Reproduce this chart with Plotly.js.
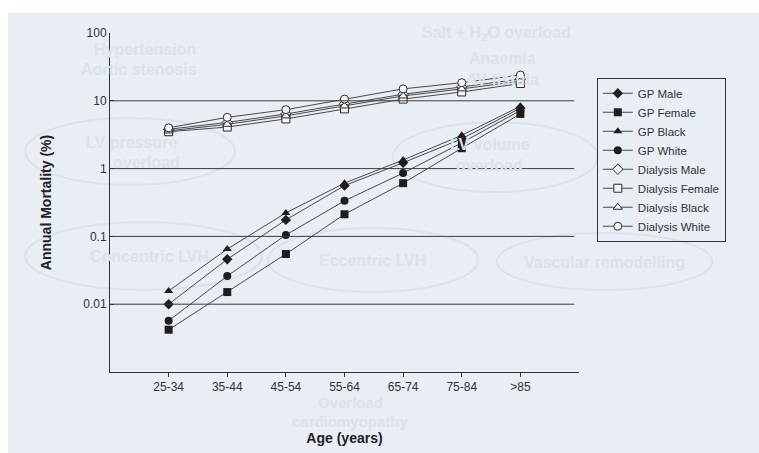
<!DOCTYPE html>
<html>
<head>
<meta charset="utf-8">
<script src="https://cdn.plot.ly/plotly-3.0.1.min.js"></script>
<style>
html,body{margin:0;padding:0;background:#ffffff;}
#chart{width:759px;height:453px;}
</style>
</head>
<body>
<div id="chart"></div>
<script>
// ---- data ----
var AGE_GROUPS = ["25-34","35-44","45-54","55-64","65-74","75-84",">85"];

var GP_MALE   = [0.0100, 0.046, 0.175, 0.56, 1.22, 2.75, 7.8];
var GP_FEMALE = [0.0042, 0.0151, 0.055, 0.212, 0.61, 2.0, 6.4];
var GP_BLACK  = [0.0157, 0.065, 0.222, 0.61, 1.34, 3.1, 8.3];
var GP_WHITE  = [0.0057, 0.026, 0.105, 0.335, 0.86, 2.4, 7.2];

var DIAL_MALE   = [3.8, 4.8, 6.4, 9.0, 12.5, 16.0, 21.0];
var DIAL_FEMALE = [3.5, 4.1, 5.4, 7.6, 10.6, 13.5, 18.0];
var DIAL_BLACK  = [3.6, 4.5, 6.0, 8.4, 11.8, 15.0, 19.5];
var DIAL_WHITE  = [4.0, 5.7, 7.4, 10.6, 15.0, 18.5, 24.0];

var Y_TICKS = [100, 10, 1, 0.1, 0.01];
var Y_TICK_TEXT = ["100", "10", "1", "0.1", "0.01"];
var GRID_LINES = [10, 1, 0.1, 0.01];

// ---- styling ----
var LINE = {color: "#4a4a4a", width: 1};
function gp(name, y, sym) {
  return {type: "scatter", mode: "lines+markers", name: name, x: AGE_GROUPS, y: y,
    line: LINE, marker: {symbol: sym, size: 8, color: "#1e1e1e", line: {width: 0}}};
}
function dial(name, y, sym) {
  return {type: "scatter", mode: "lines+markers", name: name, x: AGE_GROUPS, y: y,
    line: LINE, marker: {symbol: sym, size: 8, color: "#f4f6fa", line: {width: 1, color: "#2a2a2a"}}};
}

var traces = [
  gp("GP Male", GP_MALE, "diamond"),
  gp("GP Female", GP_FEMALE, "square"),
  gp("GP Black", GP_BLACK, "triangle-up"),
  gp("GP White", GP_WHITE, "circle"),
  dial("Dialysis Male", DIAL_MALE, "diamond"),
  dial("Dialysis Female", DIAL_FEMALE, "square"),
  dial("Dialysis Black", DIAL_BLACK, "triangle-up"),
  dial("Dialysis White", DIAL_WHITE, "circle")
];

var BG = "#e9edf4";
var GHOST = "#dce1ea";

var shapes = [
  {type: "rect", xref: "paper", yref: "paper", x0: -0.2175, x1: 1.5, y0: -0.3, y1: 1.059,
   fillcolor: BG, line: {width: 0}, layer: "below"}
];
// faint show-through ellipses from the reverse page
[[-0.181, 0.2665, 0.552, 0.749], [0.603, 1.040, 0.531, 0.737], [-0.181, 0.324, 0.242, 0.442],
 [0.337, 0.785, 0.236, 0.425], [0.825, 1.284, 0.242, 0.410]].forEach(function (e) {
  shapes.push({type: "circle", xref: "paper", yref: "paper", x0: e[0], x1: e[1], y0: e[2], y1: e[3],
    line: {color: GHOST, width: 2}, fillcolor: "rgba(0,0,0,0)", layer: "below"});
});
GRID_LINES.forEach(function (v) {
  shapes.push({type: "line", xref: "paper", yref: "y", x0: 0, x1: 0.99, y0: v, y1: v,
    line: {color: "#3c3c3c", width: 1}});
});

var ghostFont = {family: "Liberation Sans, Arial, sans-serif", size: 16, color: GHOST, weight: "bold"};
var ghostSmall = {family: "Liberation Sans, Arial, sans-serif", size: 15, color: GHOST, weight: "bold"};
var ghostTexts = [
  ["Hypertension", 0.075, 0.950], ["Aortic stenosis", 0.062, 0.893],
  ["LV pressure", 0.045, 0.678], ["overload", 0.078, 0.619],
  ["Salt + H<sub>2</sub>O overload", 0.825, 1.0], ["Anaemia", 0.836, 0.926], ["AV fistula", 0.836, 0.864],
  ["LV volume", 0.81, 0.67], ["overload", 0.81, 0.61],
  ["Concentric LVH", 0.085, 0.342], ["Eccentric LVH", 0.559, 0.33], ["Vascular remodelling", 1.055, 0.324],
  ["Overload", 0.512, -0.091], ["cardiomyopathy", 0.512, -0.145]
];
var annotations = ghostTexts.map(function (g, i) {
  return {text: "<b>" + g[0] + "</b>", x: g[1], y: g[2], xref: "paper", yref: "paper",
    showarrow: false, font: (i >= 12 ? ghostSmall : ghostFont), xanchor: "center", yanchor: "middle"};
});

var layout = {
  width: 759, height: 453,
  margin: {l: 110, r: 180, t: 33, b: 81},
  paper_bgcolor: "#ffffff",
  plot_bgcolor: "rgba(0,0,0,0)",
  font: {family: "Liberation Sans, Arial, sans-serif", size: 12, color: "#333333"},
  showlegend: true,
  legend: {x: 1.038, y: 0.868, xanchor: "left", yanchor: "top",
    bgcolor: "rgba(0,0,0,0)", bordercolor: "#333333", borderwidth: 1,
    font: {size: 11.5, color: "#333333"}, tracegroupgap: 0, itemwidth: 30},
  xaxis: {type: "category", range: [-1, 7], showline: true, linecolor: "#333333", linewidth: 1,
    ticks: "outside", ticklen: 4, tickcolor: "#333333", showgrid: false, zeroline: false,
    tickfont: {size: 12, color: "#333333"},
    title: {text: "<b>Age (years)</b>", font: {size: 14, color: "#222222"}, standoff: 39}},
  yaxis: {type: "log", range: [-3, 2], showline: true, linecolor: "#333333", linewidth: 1,
    tickvals: Y_TICKS, ticktext: Y_TICK_TEXT, ticks: "inside", ticklen: 4, tickcolor: "#333333",
    showgrid: false, zeroline: false, tickfont: {size: 12, color: "#333333"},
    title: {text: "<b>Annual Mortality (%)</b>", font: {size: 14, color: "#222222"}, standoff: 28}},
  shapes: shapes,
  annotations: annotations
};

Plotly.newPlot("chart", traces, layout, {displayModeBar: false, staticPlot: true});
</script>
</body>
</html>
